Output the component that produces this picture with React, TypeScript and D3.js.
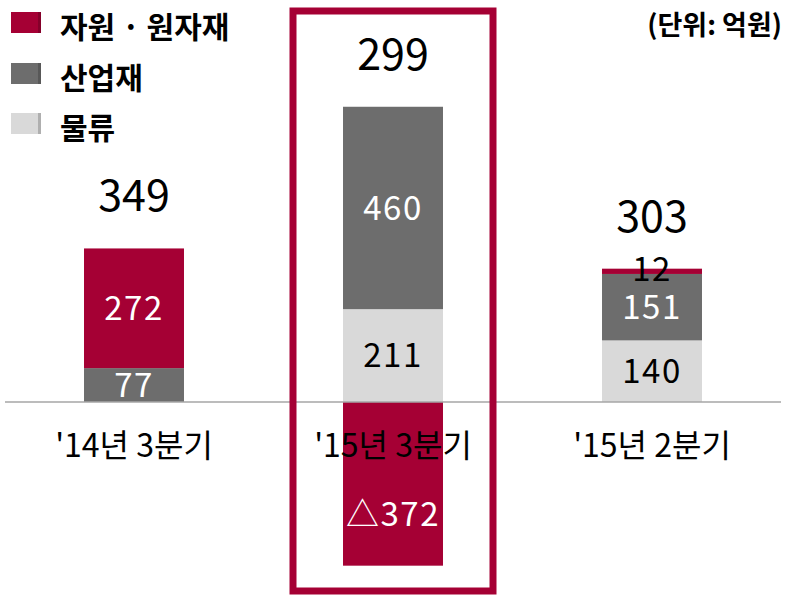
import React from "react";
import * as d3 from "d3";

const categories = ["'14년 3분기", "'15년 3분기", "'15년 2분기"];
const seriesNames = ["물류", "산업재", "자원 · 원자재"];
const logistics = [0, 211, 140];
const industrial = [77, 460, 151];
const resources = [272, -372, 12];
const totals = [349, 299, 303];
const unitLabel = "(단위: 억원)";

const colors = ["#d9d9d9", "#6d6d6d", "#a50034"];
const labelColors = ["#000", "#fff", "#fff"];
const FONT = "'Noto Sans CJK KR', 'Noto Sans', sans-serif";

export default function App() {
  const W = 786;
  const H = 595;
  const zeroY = 402;
  const pxPerUnit = 0.44;

  const x = d3
    .scaleBand<string>()
    .domain(categories)
    .range([4.5, 781.5])
    .paddingInner(0.614)
    .paddingOuter(0.307);

  const y = d3
    .scaleLinear()
    .domain([-400, 700])
    .range([zeroY + 400 * pxPerUnit, zeroY - 700 * pxPerUnit]);

  const rows = categories.map((c, i) => ({
    cat: c,
    s0: logistics[i],
    s1: industrial[i],
    s2: resources[i],
  }));
  const keys = ["s0", "s1", "s2"];
  const stacked = d3
    .stack<any>()
    .keys(keys)
    .offset(d3.stackOffsetDiverging)(rows);

  const bw = x.bandwidth();

  const legendRows = [
    { name: seriesNames[2], color: colors[2], y: 12 },
    { name: seriesNames[1], color: colors[1], y: 63 },
    { name: seriesNames[0], color: colors[0], y: 113 },
  ];

  const shade = (c: string) => d3.color(c)!.darker(0.6).toString();

  const highlightIdx = 1;
  const hx = (x(categories[highlightIdx]) as number) + bw / 2;

  return (
    <svg width={W} height={H} style={{ position: "absolute", left: 0, top: 0 }}>
      <rect width={W} height={H} fill="#fff" />
      {/* bars */}
      {stacked.map((layer, li) =>
        layer.map((d, i) => {
          const v = d[1] - d[0];
          if (v === 0) return null;
          const y0 = y(Math.max(d[0], d[1]));
          const y1 = y(Math.min(d[0], d[1]));
          return (
            <rect
              key={`${li}-${i}`}
              x={x(categories[i])}
              y={y0}
              width={bw}
              height={y1 - y0}
              fill={colors[li]}
            />
          );
        })
      )}
      {/* zero line */}
      <line x1={5} x2={781} y1={y(0)} y2={y(0)} stroke="#a6a6a6" strokeWidth={1.5} />
      {/* segment labels */}
      {stacked.map((layer, li) =>
        layer.map((d, i) => {
          const val = [logistics, industrial, resources][li][i];
          if (val === 0) return null;
          let cy = (y(d[0]) + y(d[1])) / 2;
          if (val < 0) cy = (y(0) + 60 + y(d[0])) / 2;
          const small = Math.abs(val) < 30;
          if (small) cy -= 2;
          const txt = val < 0 ? `△${Math.abs(val)}` : `${val}`;
          return (
            <text
              key={`l-${li}-${i}`}
              x={(x(categories[i]) as number) + bw / 2}
              y={cy}
              dy="0.36em"
              textAnchor="middle"
              fontFamily={FONT}
              fontSize={33}
              letterSpacing={1.5}
              fill={small ? "#000" : labelColors[li]}
            >
              {txt}
            </text>
          );
        })
      )}
      {/* totals */}
      {categories.map((c, i) => {
        const top = d3.max(stacked, (l) => l[i][1]) as number;
        return (
          <text
            key={`t-${i}`}
            x={(x(c) as number) + bw / 2}
            y={y(top) - 37}
            textAnchor="middle"
            fontFamily={FONT}
            fontSize={43}
            fill="#000"
          >
            {totals[i]}
          </text>
        );
      })}
      {/* category labels */}
      {categories.map((c, i) => (
        <text
          key={`c-${i}`}
          x={(x(c) as number) + bw / 2}
          y={457}
          textAnchor="middle"
          fontFamily={FONT}
          fontSize={32}
          fill="#000"
        >
          {c}
        </text>
      ))}
      {/* highlight box */}
      <rect
        x={hx - 100}
        y={11}
        width={200}
        height={580}
        fill="none"
        stroke="#a50034"
        strokeWidth={7}
      />
      {/* legend */}
      {legendRows.map((r, i) => (
        <g key={`lg-${i}`}>
          <rect x={11} y={r.y} width={30} height={21} fill={r.color} />
          <rect x={38} y={r.y} width={3} height={21} fill={shade(r.color)} />
          <text
            x={60}
            y={r.y + 26}
            fontFamily={FONT}
            fontWeight={700}
            fontSize={30}
            fill="#000"
          >
            {r.name}
          </text>
        </g>
      ))}
      <text
        x={782}
        y={35}
        textAnchor="end"
        fontFamily={FONT}
        fontWeight={700}
        fontSize={27}
        fill="#000"
      >
        {unitLabel}
      </text>
    </svg>
  );
}
